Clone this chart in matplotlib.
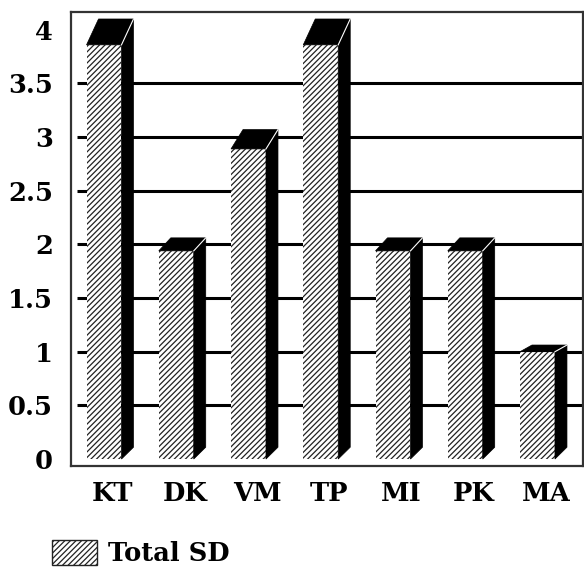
import matplotlib
matplotlib.use("Agg")
import matplotlib.pyplot as plt
from matplotlib.patches import Polygon, Patch

# Data
categories = ["KT", "DK", "VM", "TP", "MI", "PK", "MA"]
total_sd = [3.86, 1.94, 2.89, 3.86, 1.94, 1.94, 1.0]
y_ticks = [0, 0.5, 1, 1.5, 2, 2.5, 3, 3.5, 4]
y_tick_labels = ["0", "0.5", "1", "1.5", "2", "2.5", "3", "3.5", "4"]
grid_vals = [0.5, 1, 1.5, 2, 2.5, 3, 3.5]
legend_label = "Total SD"

plt.rcParams['font.family'] = ['DejaVu Serif']
plt.rcParams['font.weight'] = 'bold'
plt.rcParams['hatch.linewidth'] = 0.9

W, H = 584, 569
fig = plt.figure(figsize=(W / 100, H / 100), dpi=100)
ax = fig.add_axes([71 / W, 1 - 466 / H, (583 - 71) / W, (466 - 12) / H])

# pseudo 3D geometry (in data units)
bar_w = 0.484
dx = 0.166
dy_per_unit = 0.0624
dy_bottom = 0.11
hatch = '//////'

ax.set_xlim(-0.457, 6.63)
ax.set_ylim(-0.065, 4.166)

# gridlines on the back wall
ax.hlines(grid_vals, -0.374, 6.63, colors='black', linewidth=2.2, zorder=1)

x = list(range(len(categories)))
ax.bar(x, total_sd, width=bar_w, facecolor='white', edgecolor='#222222',
       hatch=hatch, linewidth=0, zorder=3)

for xi, v in zip(x, total_sd):
    x0 = xi - bar_w / 2
    x1 = xi + bar_w / 2
    dyt = dy_per_unit * v
    top = Polygon([(x0, v), (x1, v), (x1 + dx, v + dyt), (x0 + dx, v + dyt)],
                  closed=True, facecolor='black', edgecolor='black', lw=0.5, zorder=4)
    side = Polygon([(x1, 0), (x1, v), (x1 + dx, v + dyt), (x1 + dx, dy_bottom)],
                   closed=True, facecolor='black', edgecolor='black', lw=0.5, zorder=4)
    ax.add_patch(side)
    ax.add_patch(top)
    ax.plot([x1, x1 + dx], [v, v + dyt], color='white', lw=0.8, zorder=5)

ax.set_xticks([xi + 0.12 for xi in x])
ax.set_xticklabels(categories, fontsize=18.5, fontweight='bold')
ax.set_yticks(y_ticks)
ax.set_yticklabels(y_tick_labels, fontsize=18.5, fontweight='bold')
ax.tick_params(axis='both', length=0)
ax.tick_params(axis='y', pad=13)
ax.tick_params(axis='x', pad=11)

for s in ax.spines.values():
    s.set_color('#333333')
    s.set_linewidth(1.6)

handle = Patch(facecolor='white', edgecolor='#222222', hatch=hatch, lw=1.0, label=legend_label)
fig.legend(handles=[handle], loc='lower left', bbox_to_anchor=(52 / W, 3 / H),
           frameon=False, prop={'weight': 'bold', 'size': 18.5},
           handlelength=1.75, handleheight=1.1, handletextpad=0.42,
           borderpad=0, borderaxespad=0)

fig.savefig("out.png", dpi=100)
